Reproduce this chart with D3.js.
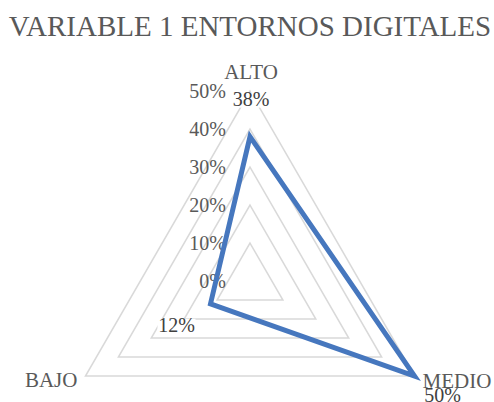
<!DOCTYPE html>
<html><head><meta charset="utf-8">
<script src="https://cdn.jsdelivr.net/npm/d3@7/dist/d3.min.js"></script>
<style>body{margin:0;background:#fff;}svg{display:block;}</style>
</head><body>
<script>
const categories = ["ALTO", "MEDIO", "BAJO"];
const values = [0.38, 0.50, 0.12];
const valueLabels = ["38%", "50%", "12%"];
const tickValues = [0, 0.1, 0.2, 0.3, 0.4, 0.5];
const tickLabels = ["0%", "10%", "20%", "30%", "40%", "50%"];
const title = "VARIABLE 1 ENTORNOS DIGITALES";

const W = 494, H = 402;
const cx = 250, cy = 281, R = 190;
const svg = d3.select("body").append("svg").attr("width", W).attr("height", H);
const font = "Liberation Serif, Times New Roman, serif";
const textColor = "#595959";

const r = d3.scaleLinear().domain([0, 0.5]).range([0, R]);
const angle = d3.scalePoint().domain(categories).range([0, 2 * Math.PI * 2 / 3]);
const pt = (cat, v) => {
  const a = angle(cat);
  return [cx + r(v) * Math.sin(a), cy - r(v) * Math.cos(a)];
};

svg.append("text").attr("x", 250).attr("y", 36).attr("text-anchor", "middle")
  .style("font-family", font).style("font-size", "29px").attr("fill", textColor).text(title);

const line = d3.line().curve(d3.curveLinearClosed);
// grid
svg.append("g").selectAll("path").data(tickValues.filter(t => t > 0)).join("path")
  .attr("d", t => line(categories.map(c => pt(c, t))))
  .attr("fill", "none").attr("stroke", "#d9d9d9").attr("stroke-width", 1.5);

// tick labels
svg.append("g").selectAll("text").data(tickValues).join("text")
  .attr("x", cx - 24).attr("y", (t) => cy - r(t) + 7)
  .attr("text-anchor", "end").style("font-family", font).style("font-size", "20px")
  .attr("fill", textColor).text((t, i) => tickLabels[i]);

// series
svg.append("path").attr("d", line(categories.map((c, i) => pt(c, values[i]))))
  .attr("fill", "none").attr("stroke", "#4677be").attr("stroke-width", 5).attr("stroke-linejoin", "miter");

// category labels
const catPos = {ALTO: [1, -12, "middle"], MEDIO: [8, 12, "start"], BAJO: [-8, 11, "end"]};
svg.append("g").selectAll("text").data(categories).join("text")
  .attr("x", c => pt(c, 0.5)[0] + catPos[c][0]).attr("y", c => pt(c, 0.5)[1] + catPos[c][1])
  .attr("text-anchor", c => catPos[c][2]).style("font-family", font).style("font-size", "21px")
  .attr("fill", textColor).text(c => c);

// value labels
const valPos = {ALTO: [1, -31], MEDIO: [28, 26], BAJO: [-34, 28]};
const vg = svg.append("g").selectAll("g").data(categories).join("g")
  .attr("transform", (c, i) => {
    const p = pt(c, values[i]);
    return `translate(${p[0] + valPos[c][0]},${p[1] + valPos[c][1]})`;
  });
vg.append("rect").attr("x", -19).attr("y", -13).attr("width", 38).attr("height", 15)
  .attr("fill", "#fff").attr("fill-opacity", (c) => c === "MEDIO" ? 0 : 1);
vg.append("text").attr("text-anchor", "middle").style("font-family", font).style("font-size", "20px")
  .attr("fill", "#404040").text((c, i) => valueLabels[i]);
</script>
</body></html>
